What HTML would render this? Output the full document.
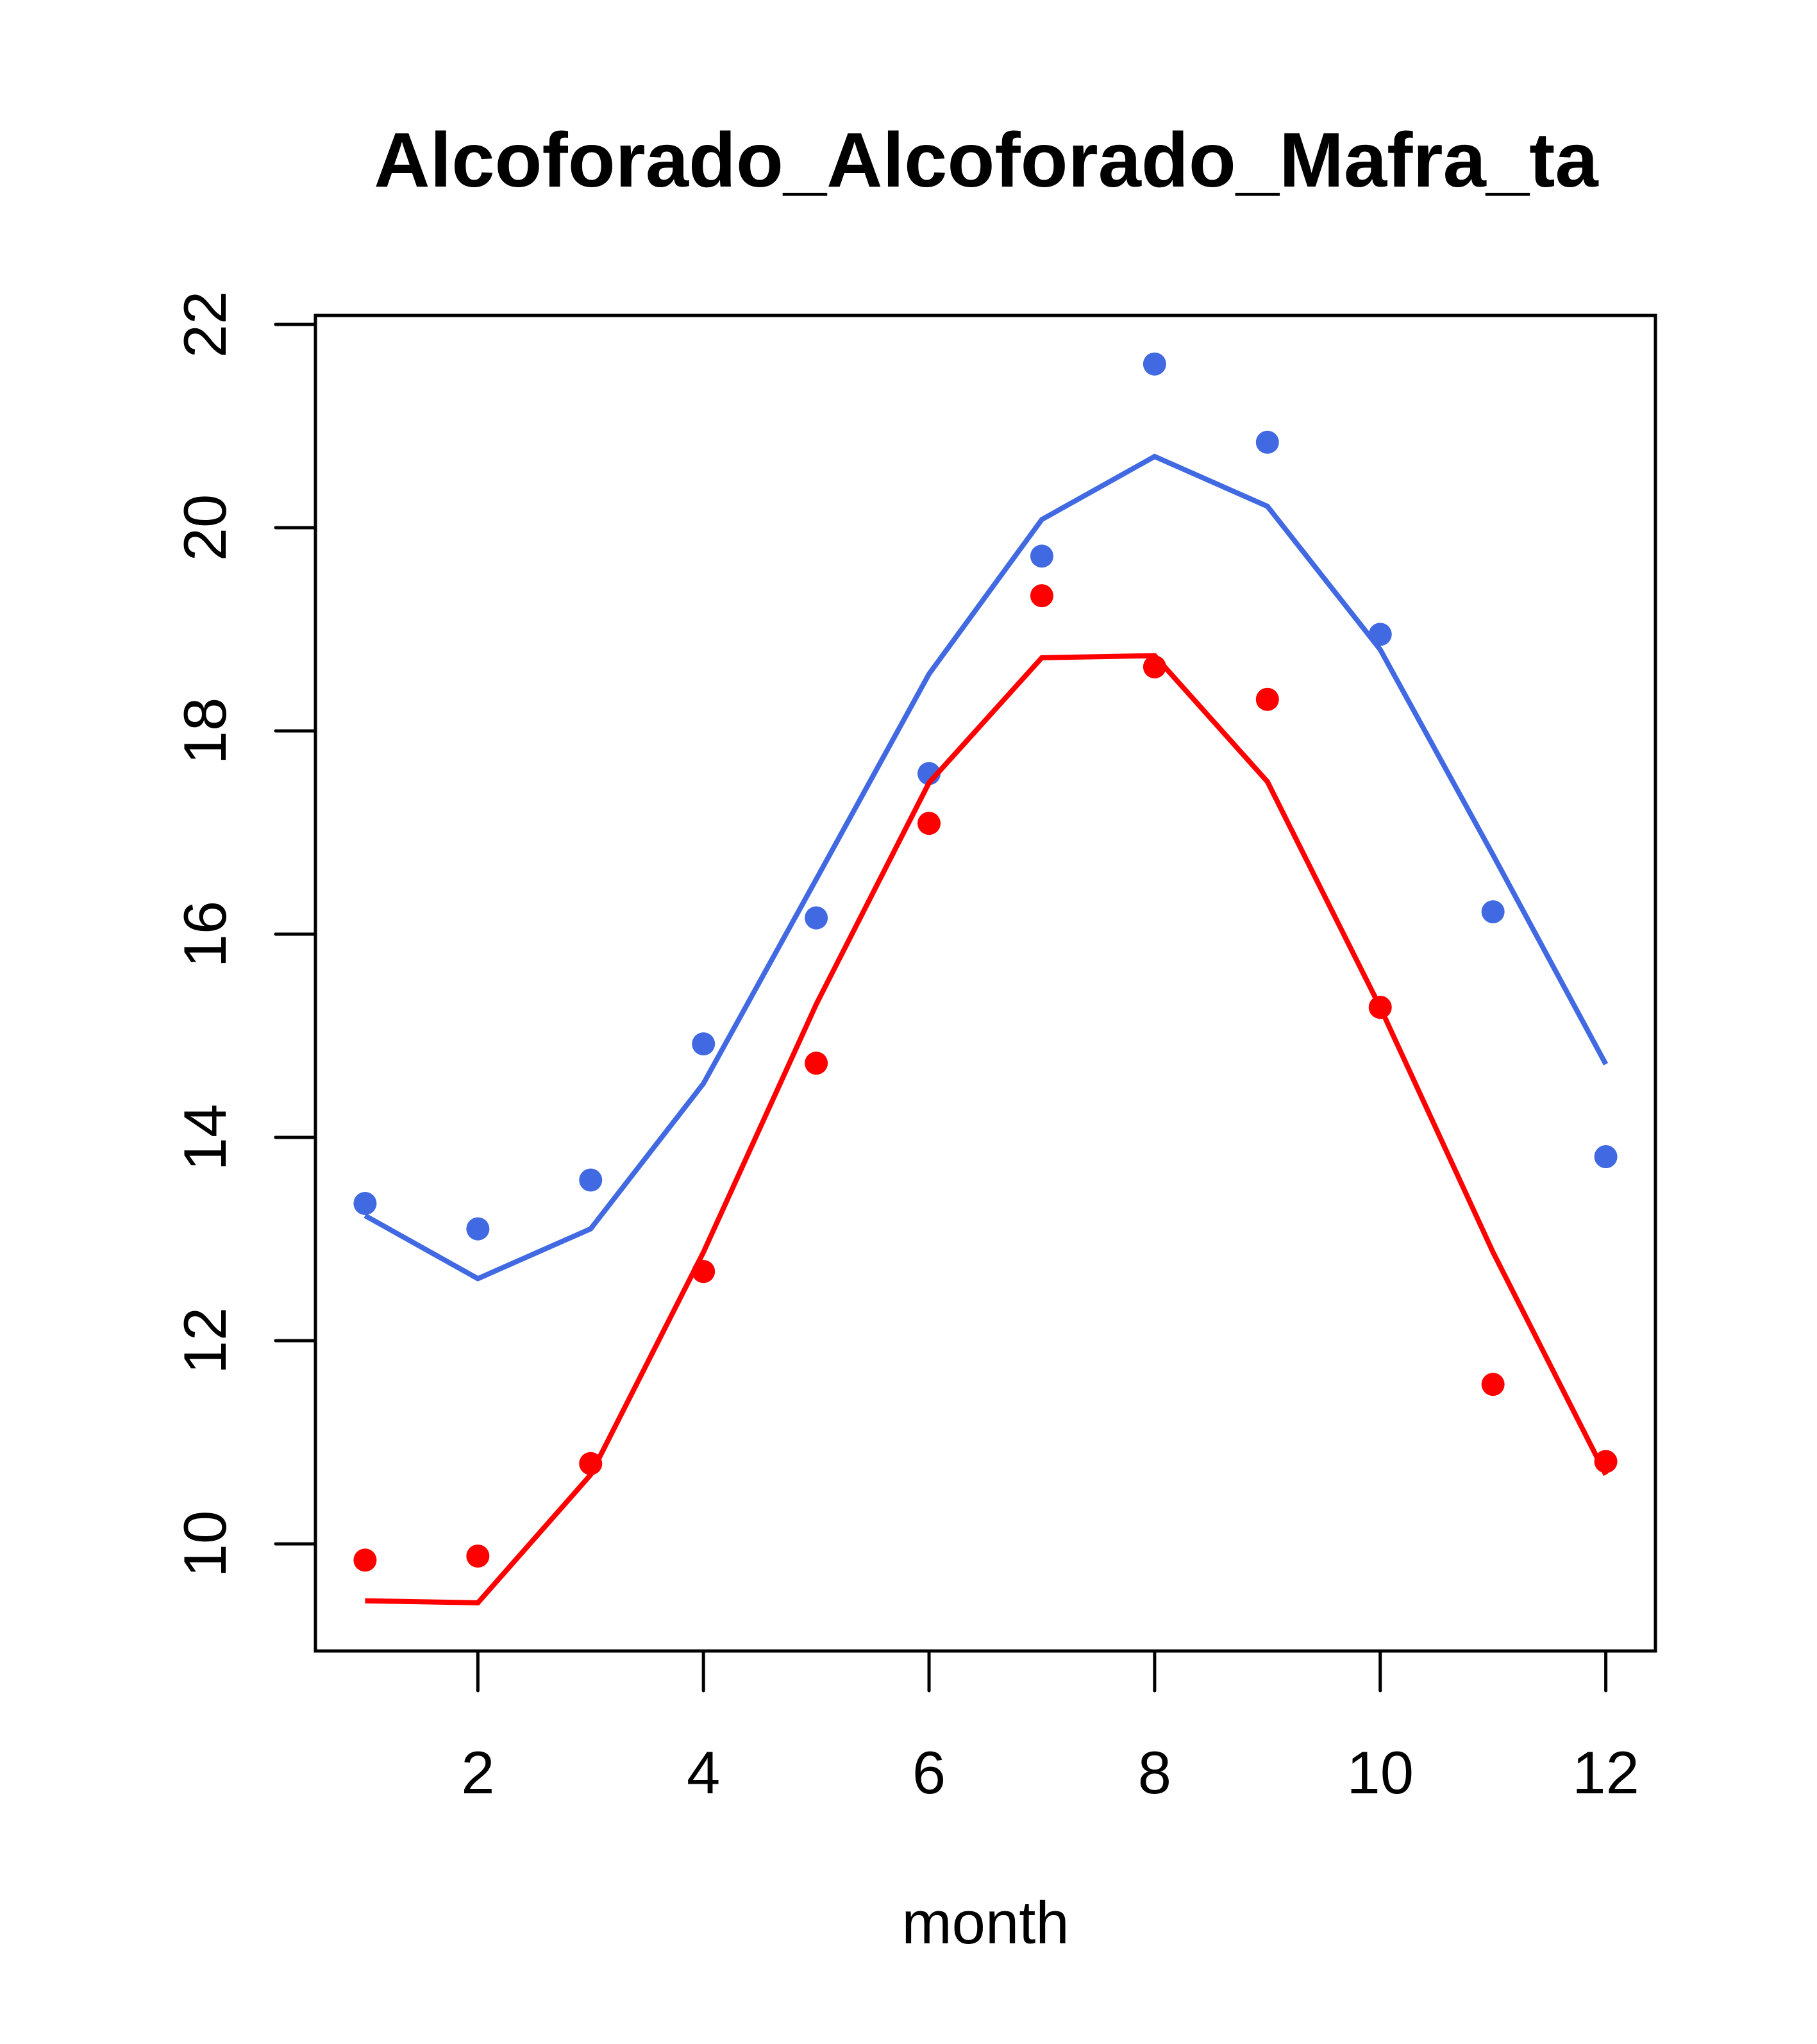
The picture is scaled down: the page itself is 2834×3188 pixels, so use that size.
<!DOCTYPE html>
<html><head><meta charset="utf-8"><style>html,body{margin:0;padding:0;background:#fff}svg{display:block}</style></head>
<body>
<svg id="chart" width="2834" height="3188" viewBox="0 0 2834 3188" xmlns="http://www.w3.org/2000/svg" font-family="Liberation Sans, sans-serif">
<rect width="2834" height="3188" fill="#fff"/>
<text x="1538" y="291" font-size="121" font-weight="bold" text-anchor="middle">Alcoforado_Alcoforado_Mafra_ta</text>
<text x="1537" y="3031" font-size="94" text-anchor="middle">month</text>
<g id="axes"></g>
<g id="marks"></g>
<rect x="492" y="492" width="2090" height="2083" fill="none" stroke="#000" stroke-width="5"/>
</svg>
<script>
const months=[1,2,3,4,5,6,7,8,9,10,11,12];
const bluePoints=[13.35,13.1,13.58,14.92,16.16,17.58,19.72,21.61,20.84,18.95,16.22,13.81];
const blueLine=[13.23,12.61,13.1,14.53,16.54,18.56,20.08,20.70,20.21,18.80,16.78,14.72];
const redPoints=[9.84,9.88,10.79,12.68,14.73,17.09,19.33,18.63,18.31,15.28,11.57,10.81];
const redLine=[9.44,9.42,10.68,12.87,15.31,17.49,18.72,18.74,17.50,15.28,12.87,10.68];
const xTicks=[2,4,6,8,10,12];
const yTicks=[10,12,14,16,18,20,22];
const NS='http://www.w3.org/2000/svg';
const L=492,R=2582,T=492,B=2575,xmin=0.56,xmax=12.44,ymin=8.946,ymax=22.088;
function xs(v){return L+(v-xmin)/(xmax-xmin)*(R-L);}
function ys(v){return B-(v-ymin)/(ymax-ymin)*(B-T);}
function mk(tag,attrs,parent){const e=document.createElementNS(NS,tag);for(const k in attrs)e.setAttribute(k,attrs[k]);parent.appendChild(e);return e;}
const axes=document.getElementById('axes'),marks=document.getElementById('marks');
mk('line',{x1:xs(xTicks[0]),x2:xs(xTicks[xTicks.length-1]),y1:B,y2:B,stroke:'#000','stroke-width':5},axes);
xTicks.forEach(t=>{
  const l=mk('line',{x1:xs(t),x2:xs(t),y1:B,y2:B+62,stroke:'#000','stroke-width':5,'stroke-linecap':'round'},axes);
  
  
  const tx=mk('text',{x:xs(t),y:2797,'font-size':94,'text-anchor':'middle'},axes);tx.textContent=t;
  
  
});
yTicks.forEach(t=>{
  const l=mk('line',{x1:L-62,x2:L,y1:ys(t),y2:ys(t),stroke:'#000','stroke-width':5,'stroke-linecap':'round'},axes);
  
  
  const tx=mk('text',{x:0,y:0,'font-size':94,'text-anchor':'middle',transform:`translate(352,${ys(t)}) rotate(-90)`},axes);tx.textContent=t;
  
  
});
function series(line,pts,color,name){
  const p=mk('polyline',{points:months.map((m,i)=>xs(m)+','+ys(line[i])).join(' '),fill:'none',stroke:color,'stroke-width':8},marks);
  
  
  months.forEach((m,i)=>{
    const c=mk('circle',{cx:xs(m),cy:ys(pts[i]),r:18,fill:color},marks);
    
    
  });
}
series(blueLine,bluePoints,'#4169E1','blue');
series(redLine,redPoints,'#FF0000','red');
</script>
</body></html>
